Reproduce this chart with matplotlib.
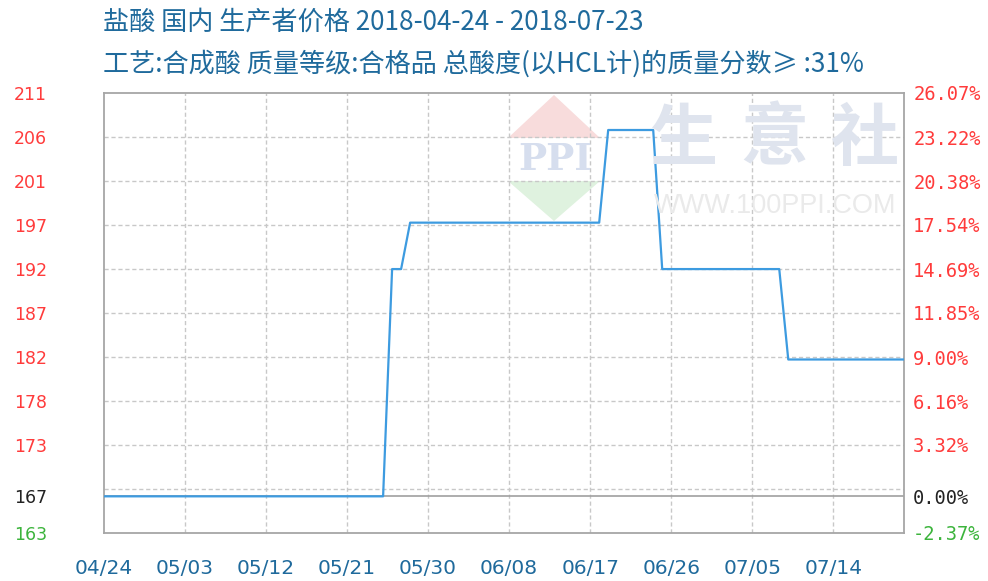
import matplotlib
matplotlib.use('Agg')
import matplotlib.pyplot as plt
import matplotlib.dates as mdates
from matplotlib.patches import Polygon
import numpy as np
import pandas as pd

plt.rcParams['font.family'] = ['Noto Sans CJK SC', 'DejaVu Sans']

# data (price, yuan/ton)
dates = ['2018-04-24', '2018-05-25', '2018-05-26', '2018-05-27', '2018-05-28',
         '2018-06-18', '2018-06-19', '2018-06-24', '2018-06-25', '2018-07-08',
         '2018-07-09', '2018-07-23']
prices = [167.33, 167.33, 191.91, 191.91, 196.93,
          196.93, 206.95, 206.95, 191.91, 191.91,
          182.13, 182.13]
base = 167.33

left_labels = ['211', '206', '201', '197', '192', '187', '182', '178', '173', '167', '163']
right_labels = ['26.07%', '23.22%', '20.38%', '17.54%', '14.69%', '11.85%', '9.00%',
                '6.16%', '3.32%', '0.00%', '-2.37%']
label_pcts = [26.07, 23.22, 20.38, 17.54, 14.69, 11.85, 9.00, 6.16, 3.32, 0.00, -2.37]
xtick_labels = ['04/24', '05/03', '05/12', '05/21', '05/30', '06/08', '06/17',
                '06/26', '07/05', '07/14']

title1 = '盐酸 国内 生产者价格 2018-04-24 - 2018-07-23'
title2 = '工艺:合成酸 质量等级:合格品 总酸度(以HCL计)的质量分数≥ :31%'

W, H = 988, 581
fig = plt.figure(figsize=(W / 100, H / 100), dpi=100)

def fx(x):
    return x / W

def fy(y):
    return 1 - y / H

L, R, T, B = 104, 903.5, 93, 533
ax = fig.add_axes([fx(L), fy(B), fx(R) - fx(L), fy(T) - fy(B)])

x = pd.to_datetime(dates)
start = pd.Timestamp('2018-04-24')
x0 = mdates.date2num(start)
ax.set_xlim(x0, x0 + 88.8)
ylo, yhi = base * (1 - 0.0237), base * (1 + 0.2607)
ax.set_ylim(ylo, yhi)

# grid
grid_pcts = np.linspace(26.07, -2.37, 11)
for p in grid_pcts[1:-1]:
    ax.axhline(base * (1 + p / 100), color='#c8c8c8', lw=1, ls=(0, (3, 2)), zorder=1)
tick_pos = [x0 + 9 * i for i in range(len(xtick_labels))]
for t in tick_pos[1:]:
    ax.axvline(t, color='#c8c8c8', lw=1, ls=(0, (3, 2)), zorder=1)
ax.axhline(base, color='#a0a0a0', lw=1.2, zorder=2)

# watermark
ax.add_patch(Polygon([(fx(508), fy(138)), (fx(600), fy(138)), (fx(554), fy(95))],
                     closed=True, transform=fig.transFigure, color='#f8dcdc', zorder=0.5, lw=0))
ax.add_patch(Polygon([(fx(508), fy(181)), (fx(600), fy(181)), (fx(554), fy(221))],
                     closed=True, transform=fig.transFigure, color='#dff2df', zorder=0.5, lw=0))
fig.text(fx(555), fy(160), 'PPI', transform=fig.transFigure, ha='center', va='center',
         fontsize=27, family='DejaVu Serif', weight='bold', color='#d6deee', zorder=0.5)
for cx, ch in zip([684, 774, 865], ['生', '意', '社']):
    fig.text(fx(cx), fy(140), ch, ha='center', va='center', fontsize=49,
             weight='bold', color='#dfe4ee', zorder=0.5)
fig.text(fx(775), fy(206), 'WWW.100PPI.COM', ha='center', va='center', fontsize=19.5,
         family='Liberation Sans', color='#eaeaea', zorder=0.5)

# data line
ax.plot(x, prices, color='#3d9be0', lw=1.6, zorder=3)

# frame
for s in ax.spines.values():
    s.set_color('#a6a6a6')
    s.set_linewidth(1.3)

label_pos = [base * (1 + p / 100) for p in label_pcts]
colors = ['#ff3b3b'] * 9 + ['#222222', '#3cb43c']

ax.set_yticks(label_pos)
ax.set_yticklabels(left_labels, family='DejaVu Sans', fontsize=12.5)
ax.tick_params(axis='y', length=0, pad=41)
for lab, c in zip(ax.get_yticklabels(), colors):
    lab.set_color(c)

ax2 = ax.twinx()
ax2.set_ylim(ylo, yhi)
ax2.set_yticks(label_pos)
ax2.set_yticklabels(right_labels, family='DejaVu Sans Mono', fontsize=13.5)
ax2.tick_params(axis='y', length=0, pad=7)
for lab, c in zip(ax2.get_yticklabels(), colors):
    lab.set_color(c)
for s in ax2.spines.values():
    s.set_visible(False)

ax.set_xticks(tick_pos)
ax.set_xticklabels(xtick_labels, family='DejaVu Sans', fontsize=14.5, color='#1f6a9c')
ax.tick_params(axis='x', length=0, pad=19)

fig.text(fx(103), fy(22), title1, ha='left', va='center', fontsize=18.8, color='#1f6a9c')
fig.text(fx(103), fy(64), title2, ha='left', va='center', fontsize=18.8, color='#1f6a9c')

fig.savefig('out.png', dpi=100)
